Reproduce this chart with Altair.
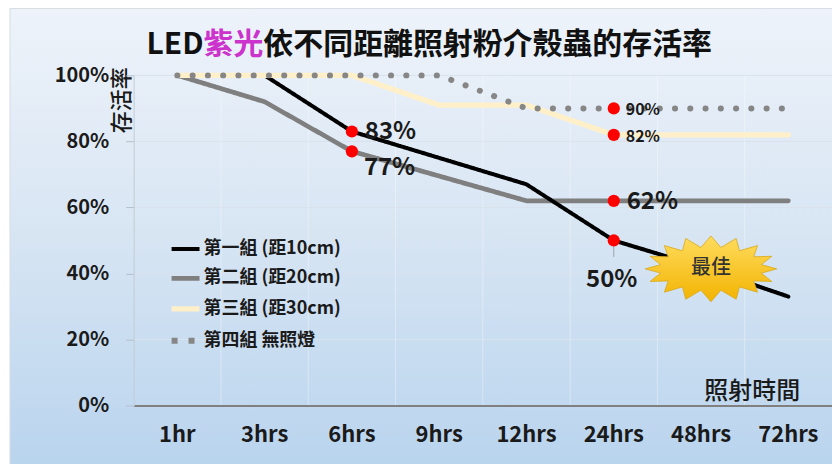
import math
import altair as alt
import pandas as pd

FONT = "Noto Sans CJK TC"

# Exposure time categories and survival rate (%) per group
hours = ["1hr", "3hrs", "6hrs", "9hrs", "12hrs", "24hrs", "48hrs", "72hrs"]
groups = ["第一組 (距10cm)", "第二組 (距20cm)", "第三組 (距30cm)", "第四組 無照燈"]
g1_10cm = [100, 100, 83, 75, 67, 50, 42, 33]
g2_20cm = [100, 92, 77, 69.5, 62, 62, 62, 62]
g3_30cm = [100, 100, 100, 91, 91, 82, 82, 82]
g4_dark = [100, 100, 100, 100, 90, 90, 90, 90]
series = [g1_10cm, g2_20cm, g3_30cm, g4_dark]

# Highlighted readings: (group index, hour index)
marked = [(0, 2), (1, 2), (3, 5), (2, 5), (1, 5), (0, 5)]

# Y tick values
y_ticks = [0, 20, 40, 60, 80, 100]

# Line styling per group
colors = ["#000000", "#7f7f7f", "#fff0c9", "#868686"]
widths = [4, 6, 7, 6]
legend_dashes = [[1, 0], [1, 0], [1, 0], [6, 11]]
dot_dash = [0.1, 15.2]

W, H = 700, 331

rows = []
for g, vals in zip(groups, series):
    for h, v in zip(hours, vals):
        rows.append({"時間": h, "存活率": v, "組別": g})
df = pd.DataFrame(rows)

pts = pd.DataFrame(
    [{"時間": hours[j], "存活率": series[i][j], "組別": groups[i],
      "標籤": f"{series[i][j]:g}%"} for i, j in marked]
)

x_scale = alt.Scale(type="band", domain=hours, paddingInner=0, paddingOuter=0)
y_scale = alt.Scale(domain=[0, 100], nice=False)
x_axis = alt.Axis(
    title=None, labelFont=FONT, labelFontSize=22, labelFontWeight="bold",
    labelColor="#1a1a1a", labelAngle=0, labelPadding=19, ticks=False,
    domainColor="#808080", domainWidth=2, grid=False, zindex=1,
)
y_axis = alt.Axis(
    title=None, values=y_ticks, labelExpr="datum.value + '%'",
    labelFont=FONT, labelFontSize=20, labelFontWeight="bold", labelColor="#1a1a1a",
    labelPadding=17, tickSize=8, tickColor="#b4bfcb", domainColor="#c2ccd6",
    grid=False, zindex=1,
)
x_mid = alt.X("時間:N", sort=hours, bandPosition=0.5, scale=x_scale, axis=x_axis)
y_enc = alt.Y("存活率:Q", scale=y_scale, axis=y_axis)

legend = alt.Legend(
    title=None, orient="none", legendX=35, legendY=158, symbolType="stroke",
    symbolSize=784, labelFont=FONT, labelFontSize=18, labelColor="#1a1a1a",
    labelFontWeight="bold", rowPadding=4, labelOffset=1, padding=0,
)
color = alt.Color("組別:N", scale=alt.Scale(domain=groups, range=colors), legend=legend)
swidth = alt.StrokeWidth("組別:N", scale=alt.Scale(domain=groups, range=widths), legend=legend)
sdash = alt.StrokeDash("組別:N", scale=alt.Scale(domain=groups, range=legend_dashes), legend=legend)

# Panel background with a soft vertical gradient
bg = alt.Chart(pd.DataFrame({"k": [0]})).mark_rect(
    fill=alt.Gradient(
        gradient="linear", x1=0, x2=0, y1=0, y2=1,
        stops=[alt.GradientStop(offset=0, color="#eef3fa"),
               alt.GradientStop(offset=0.5, color="#d7e5f3"),
               alt.GradientStop(offset=1, color="#b9d4ee")],
    ),
    stroke="#d8dde4", strokeWidth=1,
).encode(x=alt.value(-124), x2=alt.value(W + 4), y=alt.value(-67), y2=alt.value(H + 62))

# Faint grid: horizontal at the y ticks, vertical between time categories
hgrid = alt.Chart(pd.DataFrame({"存活率": y_ticks[1:]})).mark_rule(
    color="#d9e2ec", strokeWidth=1
).encode(y=y_enc, x=alt.value(0), x2=alt.value(W))
vgrid = alt.Chart(pd.DataFrame({"時間": hours[1:]})).mark_rule(
    color="#ffffff", opacity=0.35, strokeWidth=1
).encode(
    x=alt.X("時間:N", sort=hours, bandPosition=0, scale=x_scale, axis=x_axis),
    y=alt.value(0), y2=alt.value(H),
)

# Solid series, drawn bottom to top: 20cm, 10cm, 30cm
line_layers = []
for gi in [1, 0, 2]:
    line_layers.append(
        alt.Chart(df).transform_filter(alt.datum["組別"] == groups[gi])
        .mark_line(strokeCap="round", strokeJoin="round")
        .encode(x=x_mid, y=y_enc, color=color, strokeWidth=swidth, strokeDash=sdash)
    )
# Unlit control group as a row of round dots
line_layers.append(
    alt.Chart(df).transform_filter(alt.datum["組別"] == groups[3])
    .mark_line(strokeCap="round", strokeJoin="round", strokeDash=dot_dash)
    .encode(x=x_mid, y=y_enc, color=color, strokeWidth=swidth)
)

# Leader line under the 50% reading
leader = alt.Chart(pts[pts["標籤"] == "50%"]).mark_rule(
    color="#9aa6b2", strokeWidth=1
).encode(x=x_mid, y=y_enc, y2=alt.Y2(datum=45))

dots = alt.Chart(pts).mark_circle(size=150, color="#ff0000", opacity=1).encode(x=x_mid, y=y_enc)

big_right = alt.Chart(pts).transform_filter(
    alt.FieldOneOfPredicate(field="標籤", oneOf=["83%", "62%"])
).mark_text(align="left", baseline="middle", dx=13, dy=1, font=FONT, fontSize=24,
            fontWeight="bold", color="#1a1a1a").encode(x=x_mid, y=y_enc, text="標籤:N")

big_77 = alt.Chart(pts).transform_filter(alt.datum["標籤"] == "77%").mark_text(
    align="left", baseline="middle", dx=12, dy=17, font=FONT, fontSize=24,
    fontWeight="bold", color="#1a1a1a").encode(x=x_mid, y=y_enc, text="標籤:N")

big_50 = alt.Chart(pts).transform_filter(alt.datum["標籤"] == "50%").mark_text(
    align="center", baseline="middle", dx=-2, dy=40, font=FONT, fontSize=24,
    fontWeight="bold", color="#1a1a1a").encode(x=x_mid, y=y_enc, text="標籤:N")

small = alt.Chart(pts).transform_filter(
    alt.FieldOneOfPredicate(field="標籤", oneOf=["90%", "82%"])
).mark_text(align="left", baseline="middle", dx=12, dy=2, font=FONT, fontSize=16,
            fontWeight="bold", color="#1a1a1a").encode(x=x_mid, y=y_enc, text="標籤:N")

# "最佳" burst callout on the 10cm line at 48hrs
n_spikes = 16
verts = []
for k in range(2 * n_spikes):
    a = math.pi * k / n_spikes - math.pi / 2
    rx, ry = (1.0, 0.5) if k % 2 == 0 else (0.78, 0.33)
    verts.append((0.15 + rx * math.cos(a), 0.03 + ry * math.sin(a)))
burst_path = "M" + " L".join(f"{x:.3f},{y:.3f}" for x, y in verts) + " Z"

best = pd.DataFrame({"時間": [hours[6]], "存活率": [g1_10cm[6]], "標籤": ["最佳"]})
burst = alt.Chart(best).mark_point(
    shape=burst_path, size=17424, filled=True, opacity=1,
    fill=alt.Gradient(
        gradient="linear", x1=0, x2=0, y1=0, y2=1,
        stops=[alt.GradientStop(offset=0, color="#ffdc5e"),
               alt.GradientStop(offset=1, color="#f2b300")],
    ),
    stroke="#d9a81c", strokeWidth=0.8,
).encode(x=x_mid, y=y_enc)
burst_text = alt.Chart(best).mark_text(
    dx=10, dy=1, font=FONT, fontSize=20, fontWeight=500, color="#333333"
).encode(x=x_mid, y=y_enc, text="標籤:N")

# Title pieces: "紫光" in magenta
title_style = dict(font=FONT, fontSize=30, fontWeight="bold", baseline="middle")
t_led = alt.Chart(pd.DataFrame({"t": ["LED"]})).mark_text(
    align="right", color="#111111", **title_style
).encode(x=alt.value(70), y=alt.value(-30), text="t:N")
t_violet = alt.Chart(pd.DataFrame({"t": ["紫光"]})).mark_text(
    align="right", color="#cc33cc", **title_style
).encode(x=alt.value(130), y=alt.value(-30), text="t:N")
t_rest = alt.Chart(pd.DataFrame({"t": ["依不同距離照射粉介殼蟲的存活率"]})).mark_text(
    align="left", color="#111111", **title_style
).encode(x=alt.value(130), y=alt.value(-30), text="t:N")

y_title = alt.Chart(pd.DataFrame({"t": ["存活率"]})).mark_text(
    angle=270, align="center", baseline="middle", font=FONT, fontSize=22,
    fontWeight=500, color="#1a1a1a"
).encode(x=alt.value(-12), y=alt.value(25), text="t:N")
x_title = alt.Chart(pd.DataFrame({"t": ["照射時間"]})).mark_text(
    align="right", baseline="middle", font=FONT, fontSize=24, fontWeight=500,
    color="#1a1a1a"
).encode(x=alt.value(668), y=alt.value(317), text="t:N")

chart = alt.layer(
    bg, hgrid, vgrid, *line_layers, leader, dots, big_right, big_77, big_50, small,
    burst, burst_text, t_led, t_violet, t_rest, y_title, x_title,
).properties(
    width=W, height=H,
    autosize=alt.AutoSizeParams(type="none"),
    padding={"left": 134, "top": 75, "right": 0, "bottom": 58},
).configure_view(stroke=None).configure(background="white")

chart.save("out.html", embed_options={"renderer": "svg", "actions": False})
